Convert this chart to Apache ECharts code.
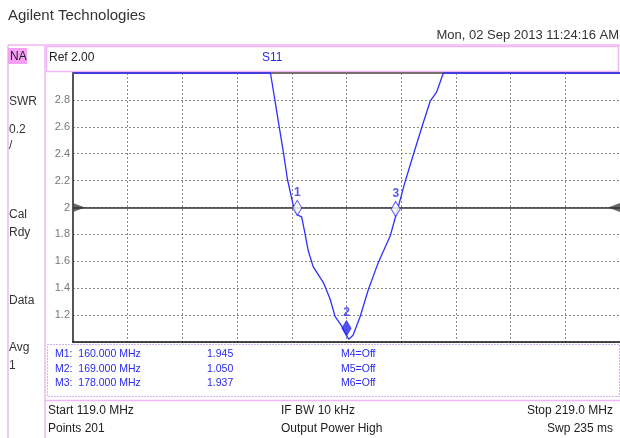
<!DOCTYPE html>
<html>
<head>
<meta charset="utf-8">
<script src="https://cdn.jsdelivr.net/npm/echarts@6/dist/echarts.min.js"></script>
<style>html,body{margin:0;padding:0;background:#fff}#c{width:620px;height:438px}</style>
</head>
<body>
<div id="c"></div>
<script>
// Trace (S11, SWR)
const sweepMHz = [119, 155.1, 155.9, 156.7, 157.5, 158.2, 159.3, 160.0, 160.8, 161.4, 162.0, 162.9, 164.8, 166.0, 166.9, 168.1, 169.0, 169.4, 170.2, 171.5, 173.0, 174.8, 177.0, 178.0, 178.5, 179.7, 181.2, 182.8, 184.3, 185.5, 186.7, 219];
const swrValues = [3.0, 3.0, 2.80, 2.60, 2.40, 2.21, 2.01, 1.945, 1.93, 1.81, 1.68, 1.56, 1.44, 1.32, 1.19, 1.12, 1.05, 1.02, 1.05, 1.19, 1.39, 1.59, 1.79, 1.937, 2.01, 2.19, 2.39, 2.60, 2.79, 2.86, 3.0, 3.0];
// Markers
const markerMHz = [160, 169, 178];
const markerSWR = [1.945, 1.050, 1.937];
const markerNames = ['1', '2', '3'];
const activeMarker = 1;
// Axis
const startMHz = 119, stopMHz = 219;
const yTickValues = [1.2, 1.4, 1.6, 1.8, 2, 2.2, 2.4, 2.6, 2.8];
const yTickLabels = ['1.2', '1.4', '1.6', '1.8', '2', '2.2', '2.4', '2.6', '2.8'];
const refLevel = 2.0;
// Texts
const markerRows = [
  ['M1:  160.000 MHz', '1.945', 'M4=Off'],
  ['M2:  169.000 MHz', '1.050', 'M5=Off'],
  ['M3:  178.000 MHz', '1.937', 'M6=Off']
];
const sideLabels = [['SWR', 103], ['0.2', 131], ['/', 147], ['Cal', 216], ['Rdy', 234], ['Data', 302], ['Avg', 349], ['1', 367]];

const chart = echarts.init(document.getElementById('c'), null, {renderer: 'canvas'});
const F = 'Liberation Sans, Arial, sans-serif';
const pink = '#f2b6f2';
const blue = '#2a2af0';

const graphics = [
  {type: 'text', left: 8, top: 8, style: {text: 'Agilent Technologies', font: '15px ' + F, fill: '#333'}},
  {type: 'text', right: 1, top: 29, style: {text: 'Mon, 02 Sep 2013 11:24:16 AM', font: '13px ' + F, fill: '#333'}},
  // frame lines
  {type: 'line', shape: {x1: 8, y1: 45, x2: 620, y2: 45}, style: {stroke: pink, lineWidth: 1.5}},
  {type: 'line', shape: {x1: 8, y1: 45, x2: 8, y2: 438}, style: {stroke: pink, lineWidth: 1.5}},
  {type: 'line', shape: {x1: 45, y1: 45, x2: 45, y2: 438}, style: {stroke: pink, lineWidth: 1.5}},
  {type: 'rect', shape: {x: 46.5, y: 46.5, width: 572, height: 25}, style: {stroke: pink, fill: '#fff', lineWidth: 1.5}},
  {type: 'rect', shape: {x: 8, y: 48, width: 19, height: 16}, style: {fill: '#f5a0f5'}},
  {type: 'text', left: 10, top: 51, style: {text: 'NA', font: '12px ' + F, fill: '#222'}},
  {type: 'text', left: 49, top: 52, style: {text: 'Ref 2.00', font: '12px ' + F, fill: '#222'}},
  {type: 'text', left: 262, top: 52, style: {text: 'S11', font: '12px ' + F, fill: blue}},
  // marker table
  {type: 'rect', shape: {x: 47.5, y: 344.5, width: 572, height: 52}, style: {stroke: '#9a6ae8', fill: 'transparent', lineWidth: 1, lineDash: [1, 2]}},
  {type: 'line', shape: {x1: 45, y1: 400.5, x2: 620, y2: 400.5}, style: {stroke: pink, lineWidth: 1.5}},
  // footer
  {type: 'text', left: 48, top: 405, style: {text: 'Start 119.0 MHz', font: '12px ' + F, fill: '#222'}},
  {type: 'text', left: 48, top: 423, style: {text: 'Points 201', font: '12px ' + F, fill: '#222'}},
  {type: 'text', left: 281, top: 405, style: {text: 'IF BW 10 kHz', font: '12px ' + F, fill: '#222'}},
  {type: 'text', left: 281, top: 423, style: {text: 'Output Power High', font: '12px ' + F, fill: '#222'}},
  {type: 'text', right: 7, top: 405, style: {text: 'Stop 219.0 MHz', font: '12px ' + F, fill: '#222'}},
  {type: 'text', right: 7, top: 423, style: {text: 'Swp 235 ms', font: '12px ' + F, fill: '#222'}}
];
markerRows.forEach((r, i) => {
  const y = 349 + i * 14.5;
  graphics.push({type: 'text', left: 55, top: y, style: {text: r[0], font: '10.5px ' + F, fill: blue}});
  graphics.push({type: 'text', left: 207, top: y, style: {text: r[1], font: '10.5px ' + F, fill: blue}});
  graphics.push({type: 'text', left: 341, top: y, style: {text: r[2], font: '10.5px ' + F, fill: blue}});
});
sideLabels.forEach(s => {
  graphics.push({type: 'text', left: 9, top: s[1] - 7, style: {text: s[0], font: '12px ' + F, fill: '#333'}});
});

const option = {
  animation: false,
  backgroundColor: '#fff',
  grid: {left: 73, right: 0, top: 73, bottom: 96, containLabel: false},
  xAxis: [
    {type: 'value', min: startMHz, max: stopMHz, position: 'bottom',
     axisLine: {show: true, onZero: false, lineStyle: {color: '#111', width: 1.5}},
     axisTick: {show: false}, axisLabel: {show: false}, splitLine: {show: false}},
    {type: 'value', min: 0, max: 100, interval: 10, position: 'top',
     axisLine: {show: true, onZero: false, lineStyle: {color: '#7a6f6f', width: 2}},
     axisTick: {show: false}, axisLabel: {show: false},
     splitLine: {show: true, lineStyle: {color: '#888', type: [2, 2], width: 1}}}
  ],
  yAxis: {type: 'value', min: 1, max: 3, interval: 0.2,
    axisLine: {show: true, onZero: false, lineStyle: {color: '#555', width: 2}},
    axisTick: {show: false},
    axisLabel: {color: '#777', fontSize: 11, fontFamily: F, margin: 3,
      formatter: v => {
        const i = yTickValues.findIndex(t => Math.abs(t - v) < 1e-6);
        return i >= 0 ? yTickLabels[i] : '';
      }},
    splitLine: {show: true, lineStyle: {color: '#888', type: [2, 2], width: 1}}
  },
  graphic: graphics,
  series: [
    {type: 'line', xAxisIndex: 0, data: sweepMHz.map((f, i) => [f, swrValues[i]]),
     showSymbol: false, symbol: 'none', lineStyle: {color: '#3030ff', width: 1.3}, clip: false, z: 3,
     markLine: {silent: true, symbol: 'none', label: {show: false},
       lineStyle: {color: '#333', width: 1.5, type: 'solid'}, data: [{yAxis: refLevel}]}},
    {type: 'scatter', xAxisIndex: 0, silent: true, z: 2,
     data: [
       {value: [startMHz, refLevel], symbolRotate: -90, symbolOffset: [6, 0]},
       {value: [stopMHz, refLevel], symbolRotate: 90, symbolOffset: [-6, 0]}
     ],
     symbol: 'triangle', symbolSize: [9, 12], itemStyle: {color: '#444'}, clip: false},
    {type: 'scatter', xAxisIndex: 0, silent: true, z: 5,
     data: markerMHz.map((f, i) => ({
       value: [f, markerSWR[i]],
       itemStyle: i === activeMarker ? {color: blue, borderColor: blue, borderWidth: 1} : {color: '#fff', borderColor: blue, borderWidth: 1},
       label: {show: true, formatter: markerNames[i]}
     })),
     symbol: 'diamond', symbolSize: [9, 15], symbolOffset: [0, -7],
     label: {position: 'top', distance: 1, color: blue, fontWeight: 'bold', fontSize: 12, fontFamily: F}}
  ]
};
chart.setOption(option);
</script>
</body>
</html>
